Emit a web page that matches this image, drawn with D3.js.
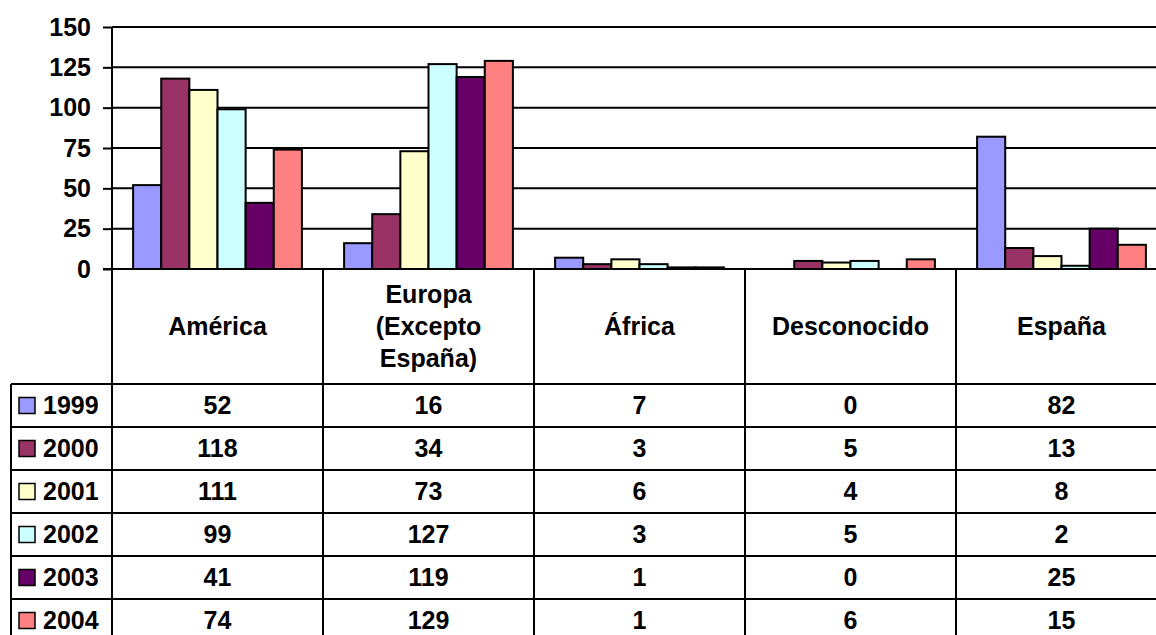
<!DOCTYPE html>
<html>
<head>
<meta charset="utf-8">
<script src="https://cdn.jsdelivr.net/npm/d3@7"></script>
<style>
  body { margin: 0; background: #fff; }
  text { font-family: "Liberation Sans", Arial, sans-serif; font-weight: bold; fill: #000; }
</style>
</head>
<body>
<div class="chart"></div>
<script>
// data
const categories = ['América', 'Europa (Excepto España)', 'África', 'Desconocido', 'España'];
const headerLines = [['América'], ['Europa', '(Excepto', 'España)'], ['África'], ['Desconocido'], ['España']];
const years = ['1999', '2000', '2001', '2002', '2003', '2004'];
const v1999 = [52, 16, 7, 0, 82];
const v2000 = [118, 34, 3, 5, 13];
const v2001 = [111, 73, 6, 4, 8];
const v2002 = [99, 127, 3, 5, 2];
const v2003 = [41, 119, 1, 0, 25];
const v2004 = [74, 129, 1, 6, 15];
const yTicks = [0, 25, 50, 75, 100, 125, 150];
const colors = ['#9999ff', '#993366', '#ffffcc', '#ccffff', '#660066', '#ff8080'];

const series = [v1999, v2000, v2001, v2002, v2003, v2004];

const W = 1156, H = 635;
const plotLeft = 112, plotRight = 1167;
const plotTop = 27, plotBottom = 269;
const headerBottom = 384, rowH = 43;
const legendLeft = 11;
const fs = 25;

const svg = d3.select('.chart').append('svg')
    .attr('width', W)
    .attr('height', H);

const y = d3.scaleLinear().domain([0, 150]).range([plotBottom, plotTop]);
const x0 = d3.scaleBand().domain(categories).range([plotLeft, plotRight]);
const x1 = d3.scaleBand().domain(years).range([0, x0.bandwidth()]).paddingOuter(0.75);
const color = d3.scaleOrdinal().domain(years).range(colors);

// gridlines
svg.append('g').selectAll('line')
    .data(yTicks.filter(d => d > 0))
    .enter().append('line')
    .attr('x1', plotLeft).attr('x2', W)
    .attr('y1', d => y(d)).attr('y2', d => y(d))
    .attr('stroke', '#000').attr('stroke-width', 2);

// bars
const barData = [];
years.forEach((yr, i) => {
    categories.forEach((c, j) => barData.push({year: yr, cat: c, v: series[i][j]}));
});

svg.append('g').selectAll('rect')
    .data(barData.filter(d => d.v > 0))
    .enter().append('rect')
    .attr('x', d => x0(d.cat) + x1(d.year))
    .attr('y', d => y(d.v))
    .attr('width', x1.bandwidth())
    .attr('height', d => y(0) - y(d.v))
    .attr('fill', d => color(d.year))
    .attr('stroke', '#000')
    .attr('stroke-width', 2);

// y axis
const yAxis = d3.axisLeft(y).tickValues(yTicks).tickSize(9).tickPadding(12);
const gy = svg.append('g')
    .attr('transform', `translate(${plotLeft},0)`)
    .call(yAxis);
gy.select('.domain').remove();
gy.selectAll('.tick line').attr('stroke', '#000').attr('stroke-width', 2);
gy.selectAll('.tick text').attr('font-size', fs).attr('font-family', '"Liberation Sans", Arial, sans-serif').attr('font-weight', 'bold');

// table lines
const tableBottom = headerBottom + rowH * years.length;
const g = svg.append('g').attr('stroke', '#000').attr('stroke-width', 2);
// axis / zero line
g.append('line').attr('x1', plotLeft - 9).attr('x2', W).attr('y1', y(0)).attr('y2', y(0));
// vertical axis through table
g.append('line').attr('x1', plotLeft).attr('x2', plotLeft).attr('y1', plotTop).attr('y2', tableBottom);
// category separators
g.selectAll('.vsep')
    .data(categories.slice(1))
    .enter().append('line')
    .attr('x1', d => x0(d)).attr('x2', d => x0(d))
    .attr('y1', y(0)).attr('y2', tableBottom);
// legend column left border
g.append('line').attr('x1', legendLeft).attr('x2', legendLeft).attr('y1', headerBottom).attr('y2', tableBottom);
// row lines
g.selectAll('.hrow')
    .data(d3.range(years.length + 1))
    .enter().append('line')
    .attr('x1', legendLeft).attr('x2', W)
    .attr('y1', i => headerBottom + i * rowH).attr('y2', i => headerBottom + i * rowH);

// header labels
const headMid = (y(0) + headerBottom) / 2;
const lineGap = 32;
categories.forEach((c, j) => {
    const lines = headerLines[j];
    const t = svg.append('text')
        .attr('text-anchor', 'middle')
        .attr('font-size', fs);
    lines.forEach((ln, k) => {
        t.append('tspan')
            .attr('x', x0(c) + x0.bandwidth() / 2)
            .attr('y', headMid + (k - (lines.length - 1) / 2) * lineGap)
            .attr('dy', '0.35em')
            .text(ln);
    });
});

// rows: legend key + values
years.forEach((yr, i) => {
    const cy = headerBottom + i * rowH + rowH / 2;
    svg.append('rect')
        .attr('x', 19).attr('y', cy - 8)
        .attr('width', 16).attr('height', 16)
        .attr('fill', color(yr))
        .attr('stroke', '#000').attr('stroke-width', 1.5);
    svg.append('text')
        .attr('x', 43).attr('y', cy).attr('dy', '0.35em')
        .attr('font-size', fs)
        .text(yr);
    categories.forEach((c, j) => {
        svg.append('text')
            .attr('x', x0(c) + x0.bandwidth() / 2)
            .attr('y', cy).attr('dy', '0.35em')
            .attr('text-anchor', 'middle')
            .attr('font-size', fs)
            .text(series[i][j]);
    });
});
</script>
</body>
</html>
